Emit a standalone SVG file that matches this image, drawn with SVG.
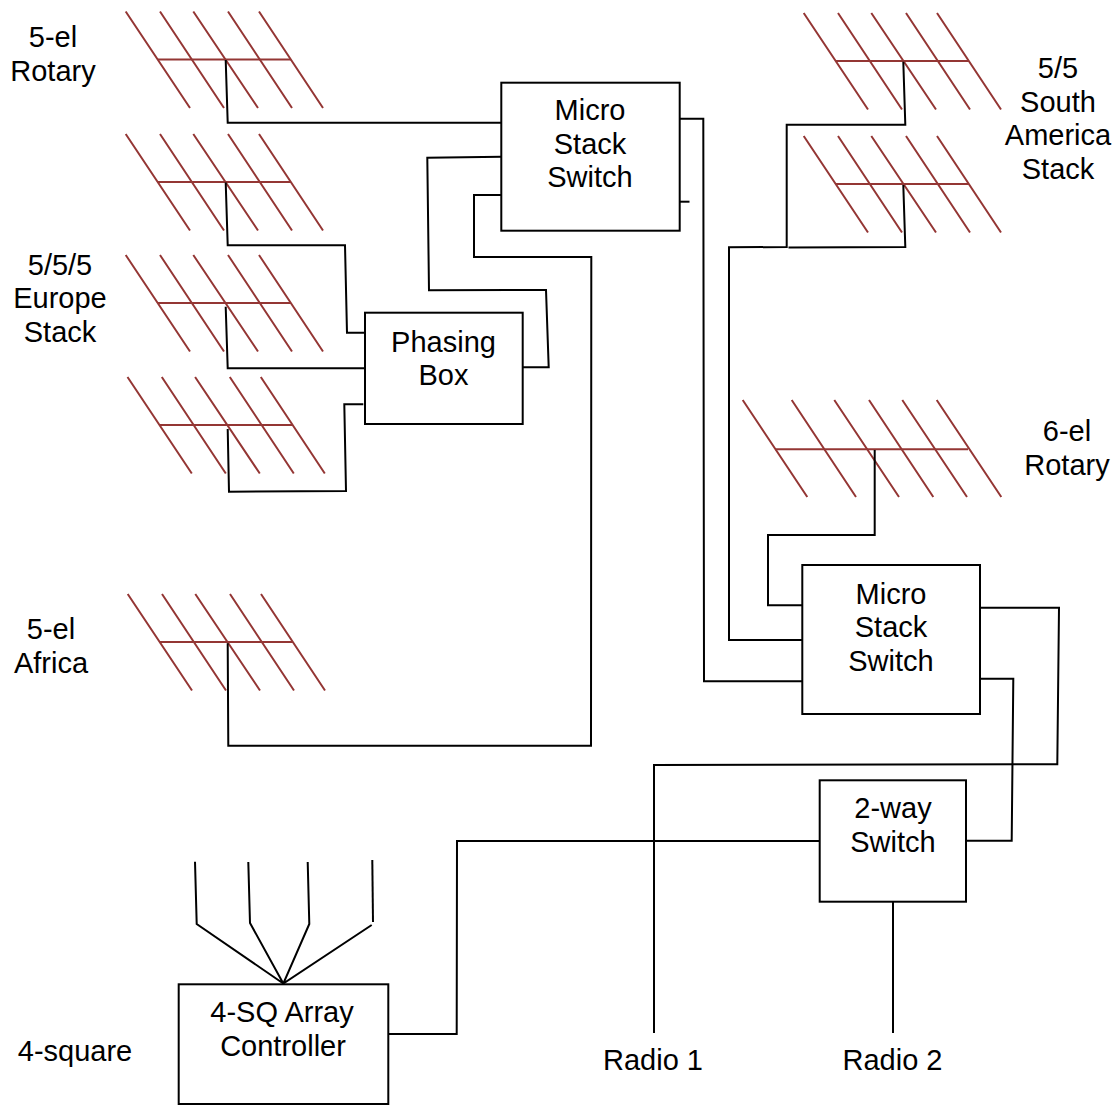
<svg xmlns="http://www.w3.org/2000/svg" xmlns:xlink="http://www.w3.org/1999/xlink" width="1118" height="1105" viewBox="0 0 1118 1105">
<style>
text{font-family:"Liberation Sans",Arial,sans-serif;font-size:29px;fill:#000;text-anchor:middle}
.box{fill:#fff;stroke:#000;stroke-width:2}
.wire{fill:none;stroke:#000;stroke-width:2;stroke-linejoin:miter}
.ant{fill:none;stroke:#943634;stroke-width:2}
</style>
<defs>
<g id="yagi5" class="ant">
<path d="M125.7 11.5L190 108M160 11.5L224 108M193.3 11.5L258 108M228 11.5L292 108M259 11.5L323 108"/>
<path d="M158 59.5H291"/>
</g>
<g id="yagi6" class="ant">
<path d="M742.7 400L807.3 497M791.7 400L856 497M834.3 400L899 497M869 400L933.3 497M902.3 400L967 497M936.7 400L1001.3 497"/>
<path d="M775 449.3H968"/>
</g>
</defs>
<rect width="1118" height="1105" fill="#fff"/>
<g id="ant-rotary5"><use href="#yagi5"/></g>
<g id="ant-europe1"><use href="#yagi5" y="122.5"/></g>
<g id="ant-europe2"><use href="#yagi5" y="243.5"/></g>
<g id="ant-europe3"><use href="#yagi5" x="1.8" y="365.5"/></g>
<g id="ant-africa"><use href="#yagi5" x="2" y="582.5"/></g>
<g id="ant-sa1"><use href="#yagi5" x="678" y="1.5"/></g>
<g id="ant-sa2"><use href="#yagi5" x="678" y="124.5"/></g>
<g id="ant-rotary6"><use href="#yagi6"/></g>
<g id="connectors" class="wire">
<path d="M225.7 60L227.7 122.7H501"/>
<path d="M225.7 182.5L227.7 245.3H345L347 332.7H365"/>
<path d="M225.7 306.7L227.7 368.3H365"/>
<path d="M227.7 429L229 491.7L346 491L344.3 404.3H363.3"/>
<path d="M501.7 156.7L427.3 157.7L429 290.3L546 290L548.7 367.3H523"/>
<path d="M501 195H474V257H591.3L591 745.7H228.3L227.7 643.3"/>
<path d="M680 118.7H703.3L704 681.3H802"/>
<path d="M680 201.7H689.5"/>
<path d="M903.3 61.7L905.3 124.7H786.7V247L729 247.3V640H802"/>
<path d="M903.3 185L905.3 247L788.5 247.5"/>
<path d="M874.7 450V535H768V605.2H802"/>
<path d="M980 607.7H1059L1057.3 764.3L654 765V1033"/>
<path d="M980 678.7H1013.3L1011.7 840.7H966"/>
<path d="M820 841H457L456.7 1034H388.3"/>
<path d="M893 902V1033"/>
<path d="M195 861.7L196.7 924L283.3 983.5L250 923L248.3 862"/>
<path d="M307.7 862L309.3 924L283.3 983.5L371.7 925"/>
<path d="M372.3 860L373 922"/>
</g>
<g id="switch1"><rect class="box" x="501.3" y="82.7" width="178.4" height="148"/><text x="590" y="120">Micro</text><text x="590" y="153.5">Stack</text><text x="590" y="187">Switch</text></g>
<g id="phasing"><rect class="box" x="365" y="312.7" width="157.7" height="111.3"/><text x="443.5" y="352">Phasing</text><text x="443.5" y="385">Box</text></g>
<g id="switch2"><rect class="box" x="802.3" y="565" width="177.7" height="149"/><text x="891" y="604">Micro</text><text x="891" y="637">Stack</text><text x="891" y="671">Switch</text></g>
<g id="twoway"><rect class="box" x="819.7" y="780.3" width="146.3" height="121.4"/><text x="893" y="818">2-way</text><text x="893" y="852">Switch</text></g>
<g id="controller"><rect class="box" x="178.7" y="984.3" width="209.6" height="119.7"/><text x="282" y="1022">4-SQ Array</text><text x="283" y="1056">Controller</text></g>
<g id="labels">
<text x="53" y="47">5-el</text><text x="53" y="81">Rotary</text>
<text x="60" y="275">5/5/5</text><text x="60" y="308">Europe</text><text x="60" y="342">Stack</text>
<text x="51" y="639">5-el</text><text x="51" y="673">Africa</text>
<text x="1058" y="78">5/5</text><text x="1058" y="112">South</text><text x="1058" y="145">America</text><text x="1058" y="179">Stack</text>
<text x="1067" y="441">6-el</text><text x="1067" y="475">Rotary</text>
<text x="75" y="1061">4-square</text>
<text x="653" y="1070">Radio 1</text><text x="892.5" y="1070">Radio 2</text>
</g>
</svg>
